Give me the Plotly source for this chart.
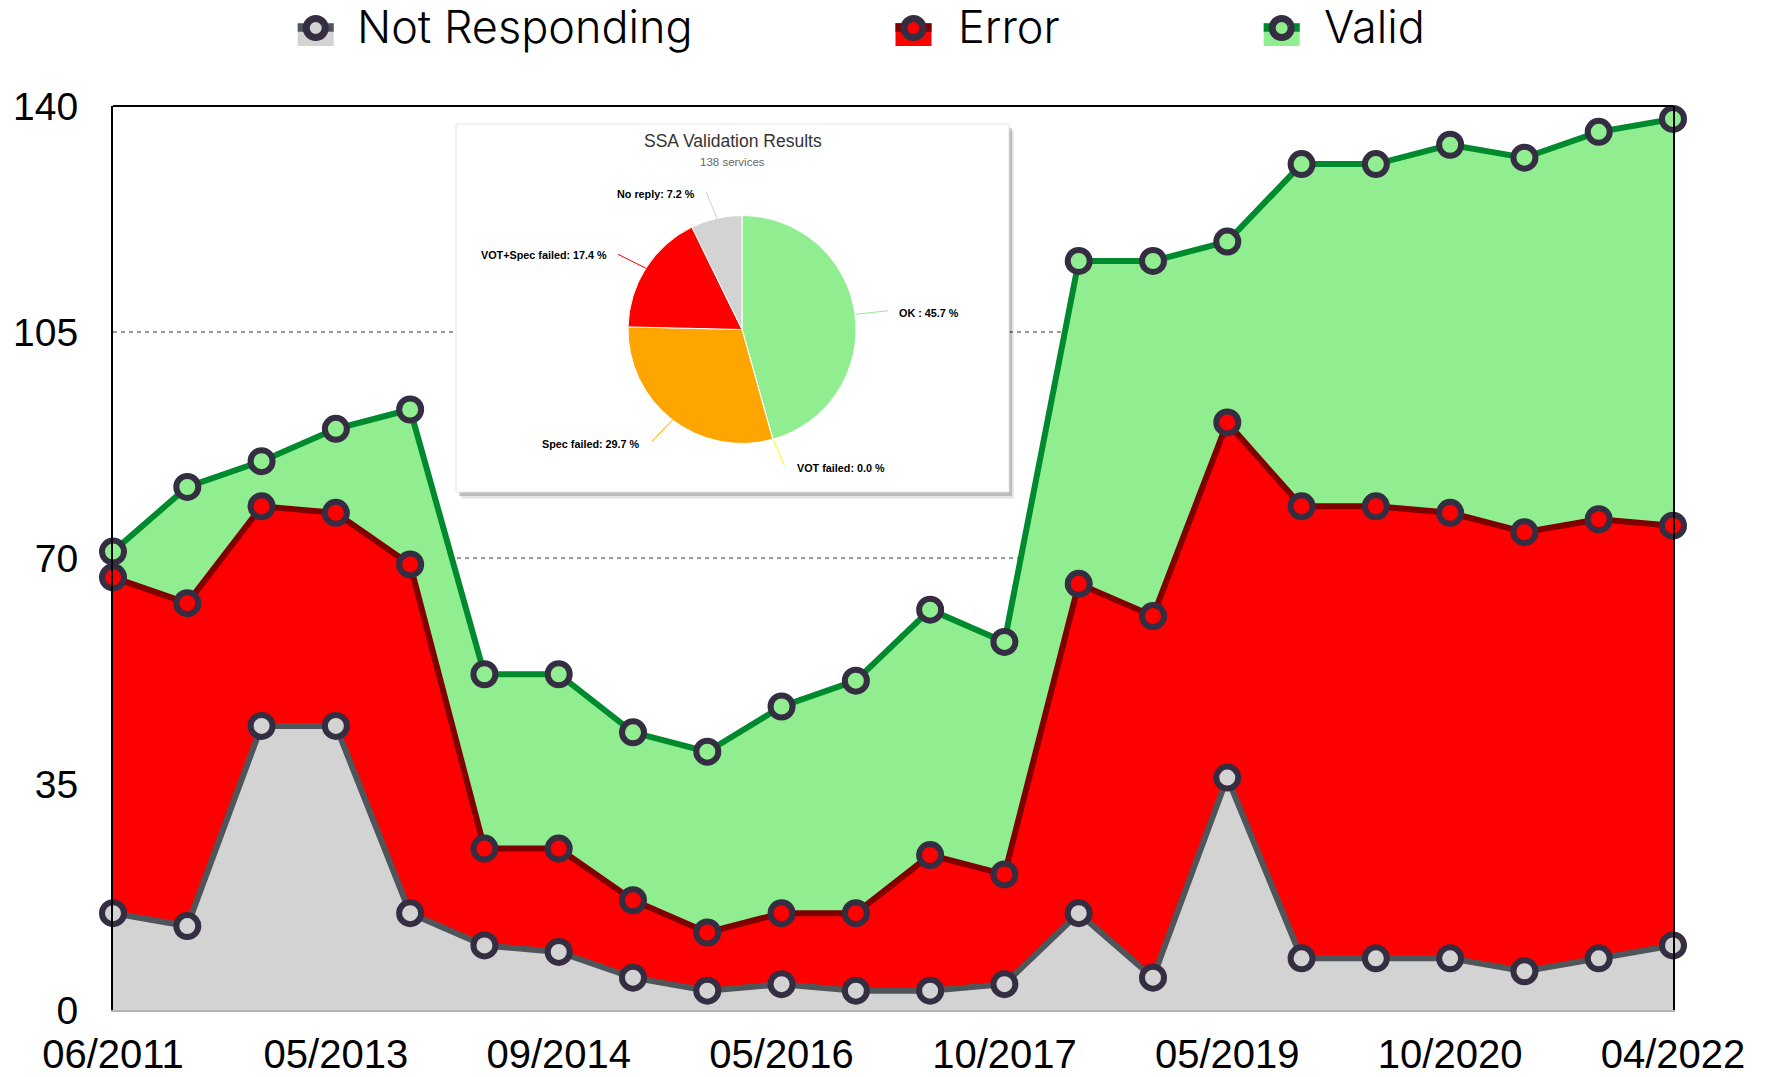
import plotly.graph_objects as go

# ---- data ----
dates = ["06/2011", "12/2011", "10/2012", "05/2013", "12/2013", "04/2014",
         "09/2014", "04/2015", "10/2015", "05/2016", "11/2016", "05/2017",
         "10/2017", "04/2018", "11/2018", "05/2019", "11/2019", "05/2020",
         "10/2020", "04/2021", "10/2021", "04/2022"]
tick_dates = ["06/2011", "05/2013", "09/2014", "05/2016", "10/2017",
              "05/2019", "10/2020", "04/2022"]
not_responding = [15, 13, 44, 44, 15, 10, 9, 5, 3, 4, 3, 3, 4, 15, 5, 36, 8, 8, 8, 6, 8, 10]
error = [52, 50, 34, 33, 54, 15, 16, 12, 9, 11, 12, 21, 17, 51, 56, 55, 70, 70, 69, 68, 68, 65]
valid = [4, 18, 7, 13, 24, 27, 27, 26, 28, 32, 36, 38, 36, 50, 55, 28, 53, 53, 57, 58, 60, 63]
y_ticks = [0, 35, 70, 105, 140]

pie_names = ["OK ", "VOT failed", "Spec failed", "VOT+Spec failed", "No reply"]
pie_values = [63, 0, 41, 24, 10]
pie_colors = ["#90ee90", "#ffff00", "#ffa500", "#ff0000", "#d3d3d3"]

# ---- geometry helpers (plot area in pixels) ----
W, H = 1766, 1077
L, R, T, B = 113, 93, 106, 67
PW, PH = W - L - R, H - T - B


def px(x):
    return (x - L) / PW


def py(y):
    return (H - B - y) / PH


MARK_EDGE = "#352d42"
series = [
    ("Not Responding", not_responding, "#d3d3d3", "#50555a", "legend", 315.7),
    ("Error", error, "#ff0000", "#800000", "legend2", 913.5),
    ("Valid", valid, "#90ee90", "#008a2e", "legend3", 1281.7),
]

fig = go.Figure()
for name, vals, fillc, linec, lg, _ in series:
    fig.add_trace(go.Scatter(
        x=dates, y=vals, name=name, stackgroup="one", mode="lines+markers",
        fillcolor=fillc, line=dict(color=linec, width=6),
        marker=dict(size=22, color=fillc, line=dict(color=MARK_EDGE, width=6)),
        cliponaxis=False, hoverinfo="skip", showlegend=False,
    ))
# legend entries (text only; swatches drawn as shapes below)
for name, vals, fillc, linec, lg, _ in series:
    fig.add_trace(go.Scatter(
        x=[None], y=[None], name=name, mode="markers",
        marker=dict(size=1, opacity=0, color=fillc),
        hoverinfo="skip", legend=lg, showlegend=True,
    ))

# inset box (shadow + white panel) on an overlay axis in plot-area fractions
bx0, bx1, by0, by1 = px(456), px(1009), py(492), py(124)
sx, sy = 3 / PW, 4 / PH
for off, col in [((sx * 1.6, -sy * 1.6), "rgba(0,0,0,0.10)"), ((sx, -sy), "rgba(0,0,0,0.18)")]:
    fig.add_trace(go.Scatter(
        x=[bx0 + off[0], bx1 + off[0], bx1 + off[0], bx0 + off[0], bx0 + off[0]],
        y=[by0 + off[1], by0 + off[1], by1 + off[1], by1 + off[1], by0 + off[1]],
        xaxis="x2", yaxis="y2", fill="toself", fillcolor=col, mode="none",
        showlegend=False, hoverinfo="skip"))
fig.add_trace(go.Scatter(
    x=[bx0, bx1, bx1, bx0, bx0], y=[by0, by0, by1, by1, by0],
    xaxis="x2", yaxis="y2", fill="toself", fillcolor="white",
    mode="lines", line=dict(color="#e4e4e4", width=1),
    showlegend=False, hoverinfo="skip"))

# pie
cx, cy, rad = 742, 329.5, 114
fig.add_trace(go.Pie(
    labels=pie_names, values=pie_values, sort=False, direction="clockwise",
    rotation=0, textinfo="none", showlegend=False, hoverinfo="skip",
    marker=dict(colors=pie_colors, line=dict(color="white", width=1)),
    domain=dict(x=[px(cx - rad), px(cx + rad)], y=[py(cy + rad), py(cy - rad)]),
))

total = sum(pie_values)
pct = [v / total * 100 for v in pie_values]
labels_txt = [f"{n}: {p:.1f} %" for n, p in zip(pie_names, pct)]

# label positions: (x, y, xanchor), leader line (x0,y0,x1,y1) in px
label_pos = [
    (897, 312.7, "left", (856, 314.3, 888, 310.7)),
    (794.6, 467.7, "left", (773.5, 440, 784.4, 465.7)),
    (641.6, 443.7, "right", (672.5, 420, 651.7, 441.7)),
    (609, 255, "right", (646, 268.3, 618, 254.3)),
    (697, 194, "right", (717, 218.3, 706, 191.7)),
]
line_colors = ["#90ee90", "#ffff00", "#ffa500", "#ff0000", "#cccccc"]

annotations = []
shapes = []
for txt, (lx, ly, anc, ln), lc in zip(labels_txt, label_pos, line_colors):
    annotations.append(dict(
        x=px(lx), y=py(ly), xref="paper", yref="paper", text=f"<b>{txt}</b>",
        showarrow=False, xanchor=anc, yanchor="middle",
        font=dict(family="Liberation Sans", size=10.8, color="#000")))
    shapes.append(dict(type="line", xref="paper", yref="paper",
                       x0=px(ln[0]), y0=py(ln[1]), x1=px(ln[2]), y1=py(ln[3]),
                       line=dict(color=lc, width=1), layer="above"))

annotations.append(dict(x=px(732.8), y=py(141), xref="paper", yref="paper",
                        xanchor="center", yanchor="middle",
                        text="SSA Validation Results", showarrow=False,
                        font=dict(family="Liberation Sans", size=17.5, color="#333")))
annotations.append(dict(x=px(732.8), y=py(162.3), xref="paper", yref="paper",
                        xanchor="center", yanchor="middle",
                        text=f"{total} services", showarrow=False,
                        font=dict(family="Liberation Sans", size=11.5, color="#666")))

# top border
shapes.append(dict(type="line", xref="paper", yref="paper", x0=0, x1=1, y0=1, y1=1,
                   line=dict(color="black", width=2), layer="above"))

# legend swatches: fill square, line band, ring marker
LEG_Y = 28
for name, vals, fillc, linec, lg, sxc in series:
    common = dict(xref="paper", yref="paper", xsizemode="pixel", ysizemode="pixel",
                  xanchor=px(sxc), yanchor=py(LEG_Y), layer="above")
    shapes.append(dict(common, type="rect", x0=-18, x1=18, y0=-18, y1=4.7,
                       fillcolor=fillc, line=dict(width=0)))
    shapes.append(dict(common, type="rect", x0=-18, x1=18, y0=-3.7, y1=4.7,
                       fillcolor=linec, line=dict(width=0)))
    shapes.append(dict(common, type="circle", x0=-9.5, x1=9.5, y0=-9.5, y1=9.5,
                       fillcolor=fillc, line=dict(color=MARK_EDGE, width=7)))

LEG_FONT = dict(family="Inter", size=45, color="black", weight=300)
legend_base = dict(orientation="h", yref="paper", yanchor="middle", y=py(26),
                   xanchor="left", bgcolor="rgba(0,0,0,0)",
                   font=LEG_FONT, itemwidth=60)

fig.update_layout(
    width=W, height=H,
    margin=dict(l=L, r=R, t=T, b=B, autoexpand=False),
    paper_bgcolor="white", plot_bgcolor="white",
    font=dict(family="Liberation Sans", color="black"),
    xaxis=dict(type="category", range=[0, len(dates) - 1], tickvals=tick_dates,
               ticktext=tick_dates, showgrid=False, zeroline=False,
               showline=True, linecolor="#b4b4b4", linewidth=2, ticks="",
               tickfont=dict(size=40), ticklabelstandoff=8),
    yaxis=dict(range=[0, 140], tickvals=y_ticks, showgrid=True, gridcolor="#999999",
               griddash="4px,4px", gridwidth=1.5, zeroline=False,
               showline=True, linecolor="black", linewidth=2, mirror=True,
               ticks="", tickfont=dict(size=39), ticklabelstandoff=25),
    xaxis2=dict(overlaying="x", range=[0, 1], visible=False),
    yaxis2=dict(overlaying="y", range=[0, 1], visible=False),
    legend=dict(legend_base, x=px(359 - 72)),
    legend2=dict(legend_base, x=px(960 - 72)),
    legend3=dict(legend_base, x=px(1326 - 72)),
    annotations=annotations,
    shapes=shapes,
    hovermode=False,
)

fig.write_html("out.html", post_script="document.body.style.margin='0px';",
               config={"displayModeBar": False})
